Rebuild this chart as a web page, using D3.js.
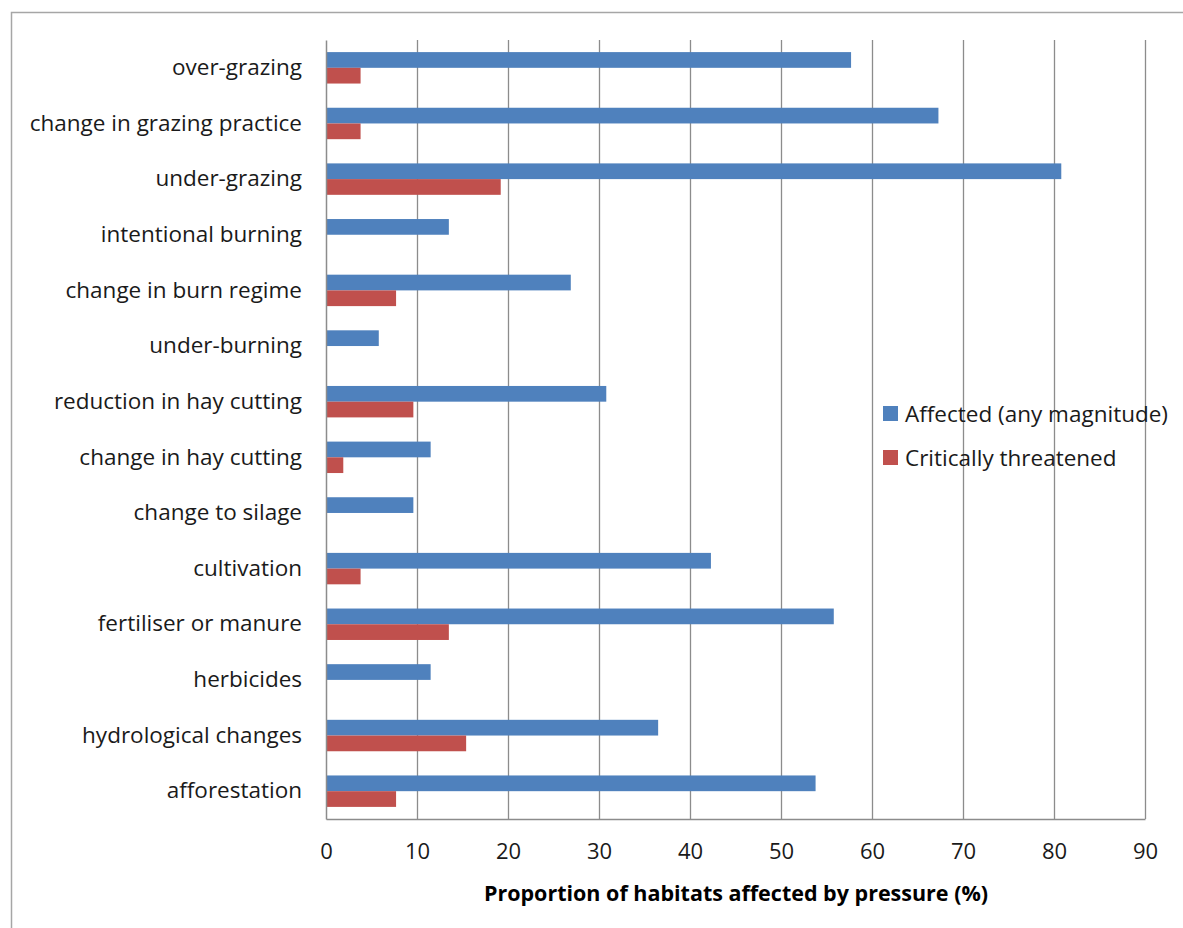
<!DOCTYPE html>
<html>
<head>
<meta charset="utf-8">
<script src="https://cdnjs.cloudflare.com/ajax/libs/d3/7.8.5/d3.min.js"></script>
<style>
  body { margin: 0; background: #fff; }
  svg { display: block; font-family: "Open Sans", Lato, sans-serif; }
</style>
</head>
<body>
<div id="barchart"></div>
<script>
// pressures on habitats, % of 52 habitats
var pressures = ["over-grazing", "change in grazing practice", "under-grazing",
  "intentional burning", "change in burn regime", "under-burning",
  "reduction in hay cutting", "change in hay cutting", "change to silage",
  "cultivation", "fertiliser or manure", "herbicides", "hydrological changes",
  "afforestation"];

var affected = [57.7, 67.3, 80.8, 13.5, 26.9, 5.8, 30.8, 11.5, 9.6, 42.3, 55.8, 11.5, 36.5, 53.8];
var critical = [3.8, 3.8, 19.2, 0, 7.7, 0, 9.6, 1.9, 0, 3.8, 13.5, 0, 15.4, 7.7];

var seriesNames = ["Affected (any magnitude)", "Critically threatened"];
var xTicks = [0, 10, 20, 30, 40, 50, 60, 70, 80, 90];
var xTitle = "Proportion of habitats affected by pressure (%)";

var colors = ["#4f81bd", "#c0504d"];

// dimensions of the page and plot area
var width = 1183, height = 928;
var plot = {left: 326, right: 1145, top: 40, bottom: 819};
var font = "'Open Sans', Lato, sans-serif";

var svg = d3.select("#barchart").append("svg")
    .attr("width", width)
    .attr("height", height);

// outer frame of the chart
svg.append("rect")
    .attr("x", 11.5)
    .attr("y", 12.5)
    .attr("width", width + 20)
    .attr("height", height + 20)
    .attr("fill", "none")
    .attr("stroke", "#a6a6a6")
    .attr("stroke-width", 1.5);

// scales
var x = d3.scaleLinear()
    .domain([0, 90])
    .range([plot.left, plot.right]);

var y = d3.scaleBand()
    .domain(pressures)
    .range([plot.top, plot.bottom])
    .padding(0);

var ySub = d3.scaleBand()
    .domain(seriesNames)
    .range([0, y.bandwidth()])
    .paddingInner(0)
    .paddingOuter(0.77);

var rows = pressures.map(function(p, i) {
  return {name: p, values: [affected[i], critical[i]]};
});

// vertical gridlines
svg.append("g")
    .attr("class", "grid")
  .selectAll("line")
    .data(xTicks.slice(1))
  .enter().append("line")
    .attr("x1", function(d) { return Math.round(x(d)) + 0.5; })
    .attr("x2", function(d) { return Math.round(x(d)) + 0.5; })
    .attr("y1", plot.top)
    .attr("y2", plot.bottom)
    .attr("stroke", "#8c8c8c")
    .attr("stroke-width", 1.3);

// bars
var groups = svg.selectAll(".row")
    .data(rows)
  .enter().append("g")
    .attr("class", "row")
    .attr("transform", function(d) { return "translate(0," + y(d.name) + ")"; });

groups.selectAll("rect")
    .data(function(d) {
      return d.values.map(function(v, j) { return {series: seriesNames[j], value: v, j: j}; });
    })
  .enter().append("rect")
    .attr("x", x(0))
    .attr("y", function(d) { return ySub(d.series); })
    .attr("width", function(d) { return x(d.value) - x(0); })
    .attr("height", ySub.bandwidth())
    .attr("fill", function(d) { return colors[d.j]; });

// axes
var xAxis = d3.axisBottom(x)
    .tickValues(xTicks)
    .tickSize(0)
    .tickPadding(24);

var gx = svg.append("g")
    .attr("transform", "translate(0," + plot.bottom + ")")
    .call(xAxis);
gx.select(".domain").attr("stroke", "#8c8c8c").attr("stroke-width", 1.5);
gx.selectAll("text")
    .attr("font-size", 22)
    .attr("font-family", font)
    .attr("fill", "#1a1a1a");

var yAxis = d3.axisLeft(y)
    .tickSize(0)
    .tickPadding(24);

var gy = svg.append("g")
    .attr("transform", "translate(" + plot.left + ",0)")
    .call(yAxis);
gy.select(".domain").attr("stroke", "#8c8c8c").attr("stroke-width", 1.5);
gy.selectAll("text")
    .attr("font-size", 22.5)
    .attr("font-family", font)
    .attr("fill", "#1a1a1a");

// axis title
svg.append("text")
    .attr("x", 736)
    .attr("y", 901)
    .attr("text-anchor", "middle")
    .attr("font-size", 21.5)
    .attr("font-weight", "bold")
    .attr("fill", "#000")
    .text(xTitle);

// legend
var legend = svg.selectAll(".legend")
    .data(seriesNames)
  .enter().append("g")
    .attr("class", "legend")
    .attr("transform", function(d, i) { return "translate(883," + (406 + i * 44) + ")"; });

legend.append("rect")
    .attr("width", 15)
    .attr("height", 15)
    .attr("fill", function(d, i) { return colors[i]; });

legend.append("text")
    .attr("x", 22)
    .attr("y", 8)
    .attr("dy", "0.35em")
    .attr("font-size", 22.5)
    .attr("fill", "#1a1a1a")
    .text(function(d) { return d; });
</script>
</body>
</html>
